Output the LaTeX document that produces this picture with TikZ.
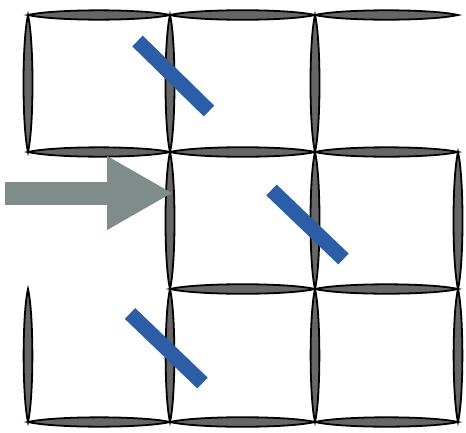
\documentclass[tikz,border=0pt]{standalone}
\usepackage{tikz}
\usetikzlibrary{calc,arrows.meta}
\definecolor{barblue}{RGB}{44,94,168}
\definecolor{arrowgray}{RGB}{127,140,138}
\tikzset{
  wall/.style={draw=black, fill=black!60, line width=1.8pt},
  bulge/.style={out=13, in=167, relative, looseness=0.5},
  bar/.style={draw=barblue, line width=15pt},
  entry/.style={draw=arrowgray, line width=23pt,
    -{Triangle[length=66pt,width=69pt]}}
}

\begin{document}
\begin{tikzpicture}[x=1pt, y=-1pt]
  \useasboundingbox (0,0) rectangle (466,432);
  % grid corners
  \foreach \x [count=\i from 0] in {28,170,315,458}
    \foreach \y [count=\j from 0] in {15,152,289,422}
      \coordinate (c-\i-\j) at (\x,\y);
  % walls
  \foreach \a/\b in {c-0-0/c-1-0, c-1-0/c-2-0, c-2-0/c-3-0,
                     c-0-1/c-1-1, c-1-1/c-2-1, c-2-1/c-3-1,
                     c-1-2/c-2-2, c-2-2/c-3-2,
                     c-0-3/c-1-3, c-1-3/c-2-3, c-2-3/c-3-3,
                     c-0-0/c-0-1, c-0-2/c-0-3,
                     c-1-0/c-1-1, c-1-1/c-1-2, c-1-2/c-1-3,
                     c-2-0/c-2-1, c-2-1/c-2-2, c-2-2/c-2-3,
                     c-3-1/c-3-2, c-3-2/c-3-3}
    \draw[wall] (\a) to[bulge] (\b) to[bulge] (\a) -- cycle;
  % mirrors
  \coordinate (m1a) at (137.5,41);  \coordinate (m1b) at (209,111);
  \coordinate (m2a) at (271.5,190); \coordinate (m2b) at (343.5,259);
  \coordinate (m3a) at (130,313.5); \coordinate (m3b) at (202.5,383);
  \draw[bar] (m1a) -- (m1b);
  \draw[bar] (m2a) -- (m2b);
  \draw[bar] (m3a) -- (m3b);
  % entry arrow
  \coordinate (in) at (5,193);
  \coordinate (tip) at (173,193);
  \draw[entry] (in) -- (tip);
\end{tikzpicture}
\end{document}
